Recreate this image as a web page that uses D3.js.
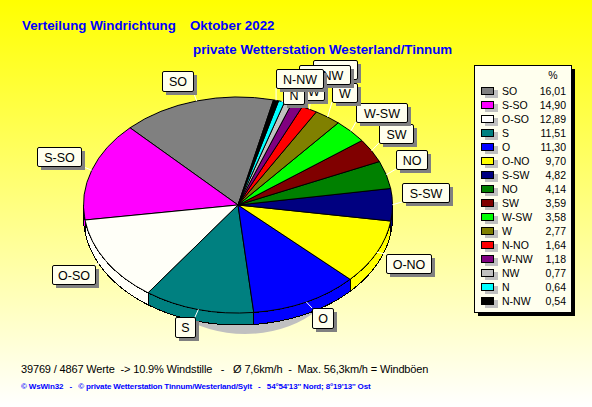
<!DOCTYPE html>
<html>
<head>
<meta charset="utf-8">
<script src="https://cdn.jsdelivr.net/npm/d3@7"></script>
<style>
html,body{margin:0;padding:0;background:#fff}
svg{display:block}
text{font-family:"Liberation Sans",Arial,sans-serif;white-space:pre}
</style>
</head>
<body>
<svg id="c" width="592" height="407"></svg>
<script>
// ---- data ----
const categories = ["SO","S-SO","O-SO","S","O","O-NO","S-SW","NO","SW","W-SW","W","N-NO","W-NW","NW","N","N-NW"];
const percentValues = [16.01,14.90,12.89,11.51,11.30,9.70,4.82,4.14,3.59,3.58,2.77,1.64,1.18,0.77,0.64,0.54];
const sliceColors = ["#808080","#ff00ff","#fffff8","#008080","#0000ff","#ffff00","#000080","#008000","#800000","#00ff00","#808000","#ff0000","#800080","#c0c0c0","#00ffff","#000000"];
const titleLine1a = "Verteilung Windrichtung";
const titleLine1b = "Oktober 2022";
const titleLine2 = "private Wetterstation Westerland/Tinnum";
const footerLine = "39769 / 4867 Werte  -> 10.9% Windstille   -   Ø 7,6km/h  -  Max. 56,3km/h = Windböen";
const creditLine = "© WsWin32   -   © private Wetterstation Tinnum/Westerland/Sylt   -   54°54'13'' Nord; 8°19'13'' Ost";

// ---- layout (separate from the data) ----
const labelBoxes = {
  "SO":[162,71,193,91],"S-SO":[37,147,81,166],"O-SO":[52,265,95,284],"S":[175,317,195,337],
  "O":[312,308,333,328],"O-NO":[386,254,431,273],"S-SW":[402,183,449,202],"NO":[396,150,427,169],
  "SW":[379,124,413,143],"W-SW":[356,103,407,122],"W":[332,83,357,102],"N-NO":[313,60,357,79],
  "W-NW":[299,65,350,84],"NW":[294,81,324,100],"N":[283,85,304,104],"N-NW":[276,69,323,88]
};
const pie3d = {cx:238, cy:205, rx:154.5, ry:108, depth:12, startDeg:13.3};

const svg = d3.select("#c");
const defs = svg.append("defs");
const g = defs.append("linearGradient").attr("id","bg").attr("x1",0).attr("y1",0).attr("x2",0).attr("y2",1);
g.append("stop").attr("offset",0).attr("stop-color","#ffff00");
g.append("stop").attr("offset",1).attr("stop-color","#ffffff");
svg.append("rect").attr("width",592).attr("height",407).attr("fill","url(#bg)");

// titles
const titleStyle = s => s.attr("font-size",13.33).attr("font-weight","bold").attr("fill","#0000ff");
svg.append("text").attr("x",22).attr("y",30).text(titleLine1a).call(titleStyle);
svg.append("text").attr("x",190).attr("y",30).text(titleLine1b).call(titleStyle);
svg.append("text").attr("x",193).attr("y",54).text(titleLine2).call(titleStyle);

// pie geometry
const start = pie3d.startDeg*Math.PI/180;
const arcs = d3.pie().sort(null).value(d=>d.v).startAngle(start).endAngle(start-2*Math.PI)
  (categories.map((c,i)=>({c,v:percentValues[i],col:sliceColors[i]})));
const sx = d3.scaleLinear().domain([-1,1]).range([pie3d.cx-pie3d.rx,pie3d.cx+pie3d.rx]);
const sy = d3.scaleLinear().domain([-1,1]).range([pie3d.cy-pie3d.ry,pie3d.cy+pie3d.ry]);
const rim = a => [sx(Math.sin(a)), sy(-Math.cos(a))];

// ground shadow
svg.append("ellipse").attr("cx",245).attr("cy",269).attr("rx",93).attr("ry",65).attr("fill","#c0c0c0");

// side walls (front half only)
const frontHi = -Math.PI/2, frontLo = -3*Math.PI/2;
const line = d3.line();
const walls = svg.append("g").attr("stroke","#000").attr("stroke-width",1).attr("shape-rendering","crispEdges");
arcs.forEach(d=>{
  const hi = Math.min(d.startAngle,frontHi), lo = Math.max(d.endAngle,frontLo);
  if (hi<=lo) return;
  const top = d3.range(0,41).map(k=>rim(hi+(lo-hi)*k/40));
  const bot = top.slice().reverse().map(p=>[p[0],p[1]+pie3d.depth]);
  walls.append("path").attr("d",line(top.concat(bot))+"Z").attr("fill",d.data.col);
});

// top surface
const arcGen = d3.arc().innerRadius(0).outerRadius(pie3d.rx);
svg.append("g").attr("transform",`translate(${pie3d.cx},${pie3d.cy}) scale(1,${pie3d.ry/pie3d.rx})`)
  .selectAll("path").data(arcs).join("path")
  .attr("d",arcGen).attr("fill",d=>d.data.col).attr("stroke","#000").attr("stroke-width",1)
  .attr("vector-effect","non-scaling-stroke").attr("shape-rendering","crispEdges");

// leader lines
const leaders = svg.append("g").attr("stroke","#ffffff").attr("stroke-width",1);
arcs.forEach(d=>{
  const b = labelBoxes[d.data.c];
  const p = rim((d.startAngle+d.endAngle)/2);
  const tx = Math.max(b[0],Math.min(b[2],p[0])), ty = Math.max(b[1],Math.min(b[3],p[1]));
  leaders.append("line").attr("x1",p[0]).attr("y1",p[1]).attr("x2",tx).attr("y2",ty);
});

// labels
arcs.forEach(d=>{
  const b = labelBoxes[d.data.c];
  const w=b[2]-b[0], h=b[3]-b[1];
  svg.append("rect").attr("x",b[0]+4).attr("y",b[1]+4).attr("width",w).attr("height",h).attr("fill","#808080");
  svg.append("rect").attr("x",b[0]+.5).attr("y",b[1]+.5).attr("width",w).attr("height",h).attr("rx",1.5)
    .attr("fill","#ffffee").attr("stroke","#000");
  svg.append("text").attr("x",b[0]+w/2+.5).attr("y",b[1]+h/2+5).attr("text-anchor","middle")
    .attr("font-size",12.5).attr("fill","#000").text(d.data.c);
});

// legend
const lg = {x0:474,y0:65,x1:571,y1:312};
svg.append("rect").attr("x",lg.x0+4).attr("y",lg.y0+4).attr("width",lg.x1-lg.x0).attr("height",lg.y1-lg.y0).attr("fill","#000");
svg.append("rect").attr("x",lg.x0+.5).attr("y",lg.y0+.5).attr("width",lg.x1-lg.x0).attr("height",lg.y1-lg.y0).attr("fill","#ffffee").attr("stroke","#000");
svg.append("text").attr("x",553).attr("y",79).attr("text-anchor","middle").attr("font-size",10.5).text("%");
const rowY = d3.scalePoint().domain(categories).range([91,301]);
const row = svg.append("g").selectAll("g").data(categories).join("g");
row.append("rect").attr("x",485).attr("y",c=>rowY(c)-1).attr("width",13).attr("height",8).attr("fill","#c0c0c0");
row.append("rect").attr("x",481.5).attr("y",c=>rowY(c)-3.5).attr("width",12).attr("height",7)
  .attr("fill",(c,i)=>i===2?"#ffffff":sliceColors[i]).attr("stroke","#000");
row.append("text").attr("x",502).attr("y",c=>rowY(c)+4).attr("font-size",10.5).text(c=>c);
row.append("text").attr("x",566).attr("y",c=>rowY(c)+4).attr("font-size",10.5).attr("text-anchor","end")
  .text((c,i)=>d3.format(".2f")(percentValues[i]).replace(".",","));

// footer
svg.append("text").attr("x",21).attr("y",373).attr("font-size",11).attr("letter-spacing",-0.15).attr("fill","#000").text(footerLine);
svg.append("text").attr("x",21).attr("y",389).attr("font-size",8).attr("letter-spacing",-0.15).attr("font-weight","bold").attr("fill","#0000ff").text(creditLine);
</script>
</body>
</html>
